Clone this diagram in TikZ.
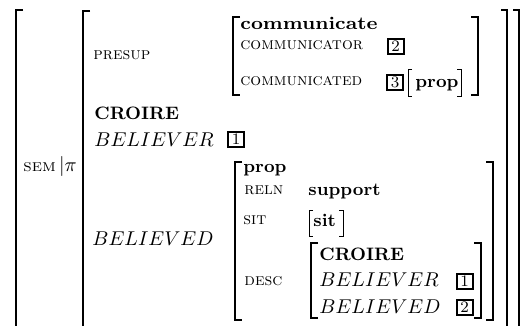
\documentclass[tikz,border=0pt]{standalone}
\usepackage{graphicx}
\begin{document}
\begin{tikzpicture}[x=0.5pt,y=-0.5pt,
  brk/.style={line width=1pt},
  sbrk/.style={line width=0.5pt},
  lbl/.style={anchor=base west,inner sep=0pt,font=\fontsize{8.5}{9}\selectfont\scshape},
  bft/.style={anchor=base west,inner sep=0pt,font=\fontsize{9}{10}\selectfont\bfseries},
  itx/.style={anchor=base west,inner sep=0pt,font=\fontsize{10}{12}\selectfont},
  tagbox/.style={draw,line width=1pt,inner sep=0pt,minimum width=8pt,minimum height=7.5pt,font=\fontsize{8}{8}\selectfont}]
\clip (0,0) rectangle (522,325);
% outer brackets
\draw[brk] (23,10) -- (16,10) -- (16,340);
\draw[brk] (90,11) -- (83,11) -- (83,340);
\draw[brk] (501,10) -- (507,10) -- (507,340);
\draw[brk] (513,10) -- (519,10) -- (519,340);
% presup AVM
\draw[brk] (240,17) -- (233,17) -- (233,95) -- (240,95);
\draw[brk] (471,17) -- (478,17) -- (478,95) -- (471,95);
\draw[sbrk] (412,70) -- (408,70) -- (408,97) -- (412,97);
\draw[sbrk] (457,70) -- (461,70) -- (461,97) -- (457,97);
% believed AVM
\draw[brk] (242,162) -- (235,162) -- (235,320) -- (242,320);
\draw[brk] (486,162) -- (493,162) -- (493,320) -- (486,320);
\draw[sbrk] (313,210) -- (309,210) -- (309,236) -- (313,236);
\draw[sbrk] (339,210) -- (343,210) -- (343,236) -- (339,236);
\draw[brk] (318,243) -- (311,243) -- (311,318) -- (318,318);
\draw[brk] (474,243) -- (481,243) -- (481,318) -- (474,318);
% texts
\node[anchor=base west,inner sep=0pt] (sem) at (23,171) {\fontsize{8.5}{9}\selectfont\scalebox{1.08}[1]{\scshape sem}\fontsize{10}{12}\selectfont$\,|\pi$};
\node[lbl] (presup) at (93,60) {presup};
\node[bft] (comm) at (240,30) {\scalebox{1.12}[1]{communicate}};
\node[lbl] (ctor) at (240,50) {communicator};
\node[lbl] (cted) at (240,86) {communicated};
\node[tagbox] (t2a) at (395.5,46.5) {2};
\node[tagbox] (t3a) at (395,82.5) {3};
\node[bft] (propa) at (415,88) {prop};
\node[bft] (croire) at (94,120) {CROIRE};
\node[itx] (bvr) at (94,147) {$BELIEVER$};
\node[tagbox] (t1a) at (236,139.5) {1};
\node[itx] (bvd) at (92,245) {$BELIEVED$};
\node[bft] (propb) at (243,173) {prop};
\node[lbl] (reln) at (244,194) {reln};
\node[bft] (supp) at (308,195) {support};
\node[lbl] (sit) at (243,224) {sit};
\node[bft] (sitv) at (313,226) {sit};
\node[lbl] (desc) at (244,285) {desc};
\node[bft] (croire2) at (319,260) {CROIRE};
\node[itx] (bvr2) at (319,286) {$BELIEVER$};
\node[itx] (bvd2) at (319,313) {$BELIEVED$};
\node[tagbox] (t1b) at (464.5,281) {1};
\node[tagbox] (t2b) at (464.5,307) {2};
\end{tikzpicture}
\end{document}
